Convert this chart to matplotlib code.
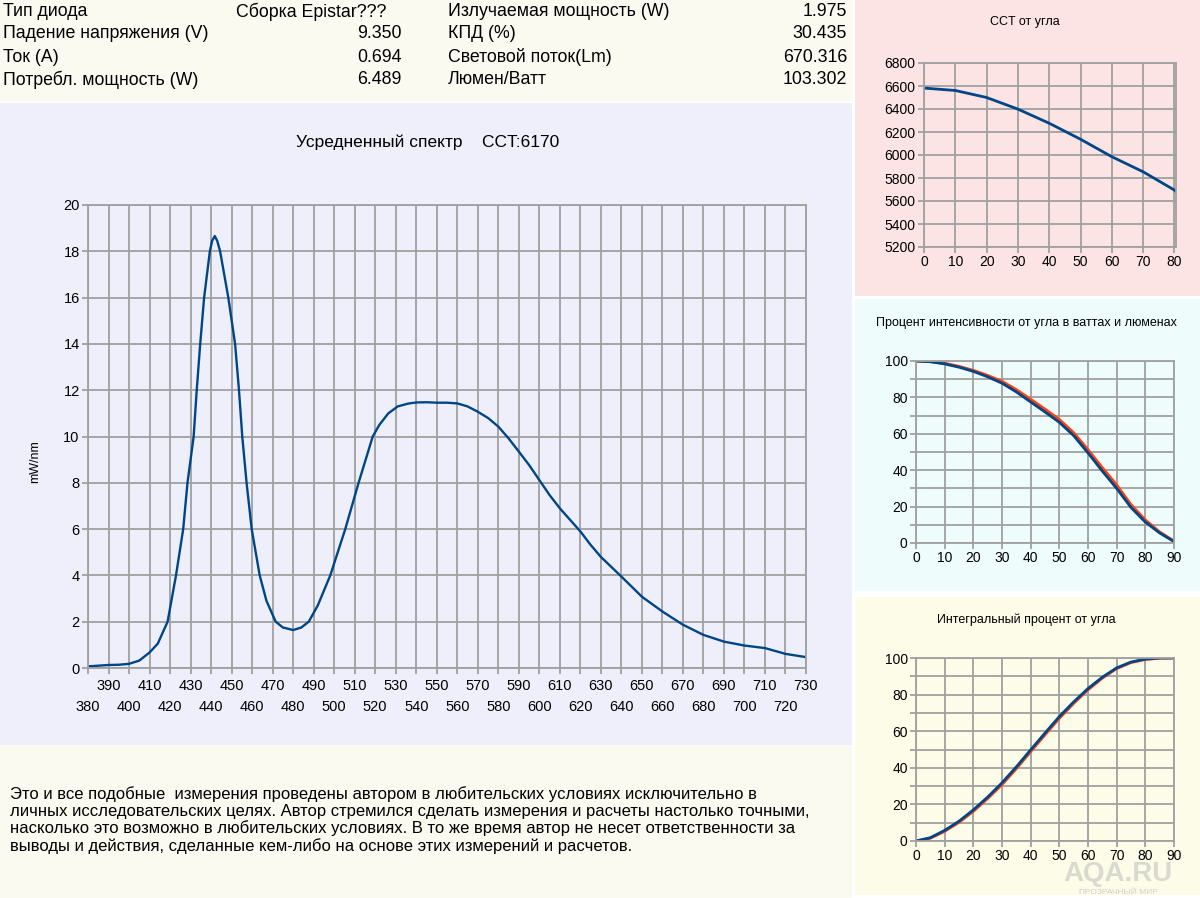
import matplotlib
matplotlib.use('Agg')
import matplotlib.pyplot as plt
from matplotlib.patches import Rectangle
from matplotlib.ticker import MultipleLocator

plt.rcParams['font.family'] = ['Liberation Sans', 'DejaVu Sans']

# --- данные ---
info_left = ['Тип диода', 'Падение напряжения (V)', 'Ток (A)', 'Потребл. мощность (W)']
info_left_val = ['Сборка Epistar???', '9.350', '0.694', '6.489']
info_right = ['Излучаемая мощность (W)', 'КПД (%)', 'Световой поток(Lm)', 'Люмен/Ватт']
info_right_val = ['1.975', '30.435', '670.316', '103.302']

wl = [380, 385, 390, 395, 400, 405, 410, 414, 418.8, 422.9, 426.4, 428.5, 431.5, 433,
      434.7, 436.6, 439.4, 440.5, 441.8, 443, 444.4, 448.4, 451.7, 453.6, 455.2, 457.3,
      459.8, 463.7, 467, 471.5, 475, 480, 484, 487.6, 492, 498.1, 505.4, 511.9, 518.8,
      522, 526.4, 531, 536, 540, 545, 550, 555, 560, 565, 570, 575, 580, 585, 590, 595,
      600, 605, 610, 615, 620, 625, 630, 640, 650, 660, 670, 680, 690, 700, 710, 720, 730]
spectrum = [0.07, 0.1, 0.13, 0.14, 0.18, 0.32, 0.67, 1.05, 2.0, 4.0, 6.0, 8.0, 10.0, 12.0,
            14.0, 16.0, 18.0, 18.45, 18.66, 18.45, 18.0, 16.0, 14.0, 12.0, 10.0, 8.0,
            6.0, 4.0, 2.9, 2.0, 1.75, 1.64, 1.75, 2.0, 2.7, 4.0, 6.0, 8.0, 10.0,
            10.5, 11.0, 11.3, 11.42, 11.47, 11.48, 11.46, 11.46, 11.43, 11.3, 11.07, 10.8,
            10.43, 9.92, 9.35, 8.77, 8.12, 7.47, 6.9, 6.4, 5.9, 5.32, 4.8, 3.95, 3.08, 2.44,
            1.87, 1.43, 1.14, 0.97, 0.86, 0.61, 0.47]
wl_top = list(range(390, 731, 20))     # верхний ряд подписей
wl_bottom = list(range(380, 721, 20))  # нижний ряд подписей

cct_angle = [0, 10, 20, 30, 40, 50, 60, 70, 80, 80.5]
cct = [6582, 6561, 6500, 6399, 6276, 6137, 5985, 5854, 5695, 5682]

angle = [0, 5, 10, 15, 20, 25, 30, 35, 40, 45, 50, 55, 60, 65, 70, 75, 80, 85, 90]
int_watt = [100, 99.6, 98.4, 96.6, 94.3, 91.3, 87.8, 83, 77.5, 72, 66.3, 59, 49.5, 39.5,
            30, 19.5, 11.5, 5.5, 0.8]
int_lum = [100, 99.7, 98.7, 97, 94.8, 92, 88.8, 84.2, 78.9, 73.5, 67.8, 60.5, 51.2, 41.3,
           31.8, 21, 12.6, 6, 1]
integ_watt = [0, 1.8, 5.8, 10.8, 17, 24, 31.8, 40.5, 49.8, 59, 68, 76, 83.3, 89.5, 94.6,
              97.8, 99.4, 100, 100]
integ_lum = [0, 1.5, 5.3, 10.2, 16.2, 23.2, 30.8, 39.5, 48.8, 58, 67, 75.2, 82.6, 89, 94.2,
             97.5, 99.2, 99.9, 100]

note = ('Это и все подобные  измерения проведены автором в любительских условиях исключительно в\n'
        'личных исследовательских целях. Автор стремился сделать измерения и расчеты настолько точными,\n'
        'насколько это возможно в любительских условиях. В то же время автор не несет ответственности за\n'
        'выводы и действия, сделанные кем-либо на основе этих измерений и расчетов.')

BLUE = '#004586'
RED = '#ff420e'
GRID = '#a0a0a0'

W, H = 1200, 898
fig = plt.figure(figsize=(12, 8.98), dpi=100, facecolor='white')


def rect(x0, y0, x1, y1):
    return [x0 / W, 1 - y1 / H, (x1 - x0) / W, (y1 - y0) / H]


def panel(x0, y0, x1, y1, color):
    l, b, w, h = rect(x0, y0, x1, y1)
    fig.patches.append(Rectangle((l, b), w, h, transform=fig.transFigure,
                                 facecolor=color, edgecolor='none', zorder=-10))


def txt(x, y, s, **kw):
    fig.text(x / W, 1 - y / H, s, va='center', **kw)


def style(ax, fs):
    ax.set_facecolor('none')
    for s in ax.spines.values():
        s.set_color(GRID)
        s.set_linewidth(1.3)
    ax.grid(True, which='both', color=GRID, lw=1.3)
    ax.set_axisbelow(True)
    ax.tick_params(which='both', color=GRID, width=1.3, length=4, labelsize=fs, pad=2)


# фоны
panel(0, 0, 852, 101, '#fafaf0')
panel(0, 103, 852, 745, '#efeffc')
panel(0, 745, 852, 898, '#fafaf0')
panel(855, 0, 1200, 296, '#fde4e4')
panel(855, 299, 1200, 591, '#effcfc')
panel(855, 597, 1200, 895, '#fcfce8')

# шапка
rows_y = [12, 34, 57, 80]
for i, y in enumerate(rows_y):
    txt(3, y, info_left[i], fontsize=12.8)
    if i == 0:
        txt(236, y, info_left_val[i], fontsize=12.8)
    else:
        txt(402, y, info_left_val[i], fontsize=12.8, ha='right')
    txt(448, y, info_right[i], fontsize=12.8)
    txt(847, y, info_right_val[i], fontsize=12.8, ha='right')

# спектр
ax = fig.add_axes(rect(88, 205, 806, 668))
style(ax, 10.5)
ax.plot(wl, spectrum, color=BLUE, lw=1.7)
ax.set_xlim(380, 730)
ax.set_ylim(0, 20)
ax.yaxis.set_major_locator(MultipleLocator(2))
ax.set_xticks(wl_top, [str(t) for t in wl_top])
ax.set_xticks(wl_bottom, [str(t) for t in wl_bottom], minor=True)
ax.tick_params(axis='x', which='major', pad=4)
ax.tick_params(axis='x', which='minor', pad=19)
txt(428, 142, 'Усредненный спектр    CCT:6170', fontsize=12.5, ha='center')
fig.text(35 / W, 1 - 462 / H, 'mW/nm', rotation=90, fontsize=9, ha='center', va='center')

# CCT от угла
ax1 = fig.add_axes(rect(924, 63, 1176, 247))
style(ax1, 10)
ax1.plot(cct_angle, cct, color=BLUE, lw=2)
ax1.set_xlim(0, 80.5)
ax1.set_ylim(5200, 6800)
ax1.xaxis.set_major_locator(MultipleLocator(10))
ax1.yaxis.set_major_locator(MultipleLocator(200))
txt(1025, 22, 'CCT от угла', fontsize=9, ha='center')

# процент интенсивности
ax2 = fig.add_axes(rect(916, 361, 1174, 543))
style(ax2, 10)
ax2.plot(angle, int_lum, color=RED, lw=2.2)
ax2.plot(angle, int_watt, color=BLUE, lw=2)
ax2.set_xlim(0, 90)
ax2.set_ylim(0, 100)
ax2.xaxis.set_major_locator(MultipleLocator(10))
ax2.yaxis.set_major_locator(MultipleLocator(20))
ax2.yaxis.set_minor_locator(MultipleLocator(10))
txt(1026, 323, 'Процент интенсивности от угла в ваттах и люменах', fontsize=9, ha='center')

# интегральный процент
ax3 = fig.add_axes(rect(916, 658, 1174, 841))
style(ax3, 10)
ax3.plot(angle, integ_lum, color=RED, lw=2)
ax3.plot(angle, integ_watt, color=BLUE, lw=2)
ax3.set_xlim(0, 90)
ax3.set_ylim(0, 100)
ax3.xaxis.set_major_locator(MultipleLocator(10))
ax3.yaxis.set_major_locator(MultipleLocator(20))
ax3.yaxis.set_minor_locator(MultipleLocator(10))
txt(1026, 620, 'Интегральный процент от угла', fontsize=9, ha='center')

# примечание
fig.text(10 / W, 1 - 786 / H, note, fontsize=12, va='top', linespacing=1.15)

# водяной знак
txt(1118, 874, 'AQA.RU', fontsize=20, ha='center', color='#b8b8b8', alpha=0.5,
    fontweight='bold')
txt(1118, 893, 'ПРОЗРАЧНЫЙ МИР', fontsize=6, ha='center', color='#b0b0b0',
    alpha=0.6)

fig.savefig('out.png', dpi=100, facecolor='white')
